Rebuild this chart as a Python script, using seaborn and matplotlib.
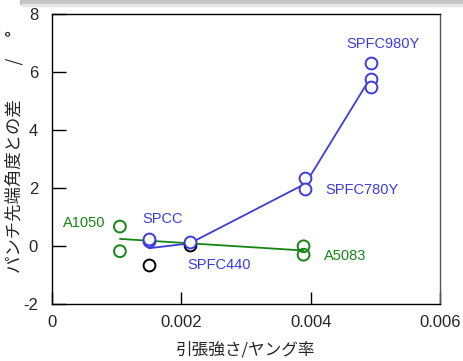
import matplotlib
matplotlib.use("Agg")
import matplotlib.pyplot as plt
import numpy as np
import pandas as pd
import seaborn as sns
from matplotlib.patches import Rectangle

# ---- data ----
steel_x = [0.00150, 0.00150, 0.00213, 0.00392, 0.00392, 0.00494, 0.00494, 0.00494]
steel_y = [0.18, 0.24, 0.13, 2.35, 1.95, 6.30, 5.77, 5.50]
black_x = [0.00150, 0.00213]
black_y = [-0.65, 0.05]
al_x = [0.00105, 0.00105, 0.00389, 0.00389]
al_y = [0.67, -0.18, -0.01, -0.30]

steel_labels = ["SPFC980Y", "SPFC780Y", "SPCC", "SPFC440"]
steel_label_x = [0.00512, 0.00422, 0.001714, 0.002587]
steel_label_y = [6.96, 1.92, 0.93, -0.67]
steel_label_ha = ["center", "left", "center", "center"]
al_labels = ["A1050", "A5083"]
al_label_x = [0.000494, 0.004533]
al_label_y = [0.78, -0.35]

x_ticks = [0, 0.002, 0.004, 0.006]
x_ticklabels = ["0", "0.002", "0.004", "0.006"]
y_ticks = [-2, 0, 2, 4, 6, 8]
y_ticklabels = ["-2", "0", "2", "4", "6", "8"]

xlabel = "引張強さ/ヤング率"
ylabel = "パンチ先端角度との差　　/　 °"

BLUE = "#3c3cd8"
GREEN = "#168516"

sns.set_style("white")
plt.rcParams["font.family"] = ["Liberation Sans", "Noto Sans CJK JP", "DejaVu Sans"]

fig = plt.figure(figsize=(4.63, 3.61), dpi=100)
ax = fig.add_axes([52 / 463, 1 - 304 / 361, 388 / 463, 290 / 361])

steel_df = pd.DataFrame({"x": steel_x + black_x, "y": steel_y + black_y})
al_df = pd.DataFrame({"x": al_x, "y": al_y})

sns.lineplot(data=steel_df, x="x", y="y", estimator="mean", errorbar=None,
             color=BLUE, lw=1.3, ax=ax, zorder=2)
sns.lineplot(data=al_df, x="x", y="y", estimator="mean", errorbar=None,
             color=GREEN, lw=1.3, ax=ax, zorder=2)

sns.scatterplot(x=black_x, y=black_y, s=72, facecolor="white", edgecolor="black",
                linewidth=1.4, ax=ax, zorder=3)
sns.scatterplot(x=steel_x, y=steel_y, s=72, facecolor="white", edgecolor=BLUE,
                linewidth=1.4, ax=ax, zorder=4)
sns.scatterplot(x=al_x, y=al_y, s=72, facecolor="none", edgecolor=GREEN,
                linewidth=1.4, ax=ax, zorder=4)

for t, x, y, ha in zip(steel_labels, steel_label_x, steel_label_y, steel_label_ha):
    ax.text(x, y, t, color=BLUE, fontsize=10.5, ha=ha, va="center")
for t, x, y in zip(al_labels, al_label_x, al_label_y):
    ax.text(x, y, t, color=GREEN, fontsize=10.5, ha="center", va="center")

ax.set_xlim(0, 0.006)
ax.set_ylim(-2, 8)
ax.set_xticks(x_ticks)
ax.set_xticklabels(x_ticklabels)
ax.set_yticks(y_ticks)
ax.set_yticklabels(y_ticklabels)
ax.tick_params(axis="y", direction="in", length=10, width=1, pad=10,
               labelsize=12, left=True, right=False, color="black")
ax.tick_params(axis="x", direction="in", length=8.5, width=1, pad=8,
               labelsize=12, bottom=True, top=False, color="black")

for s in ["left", "bottom", "top"]:
    ax.spines[s].set_color("black")
    ax.spines[s].set_linewidth(1.0)
ax.spines["right"].set_color("#555555")
ax.spines["right"].set_linewidth(1.0)

ax.set_xlabel(xlabel, fontsize=12, family=["Noto Sans CJK JP", "DejaVu Sans"], labelpad=8)
ax.set_ylabel(ylabel, fontsize=12.5, family=["Noto Sans CJK JP", "DejaVu Sans"])
ax.yaxis.set_label_coords(-0.074, 0.525)

# gray band at the top of the screenshot
fig.patches.append(Rectangle((20 / 463, 1 - 4 / 361), 1, 4 / 361,
                             transform=fig.transFigure, color="#c4c4c4", zorder=0))
fig.patches.append(Rectangle((22 / 463, 1 - 6 / 361), 1, 2 / 361,
                             transform=fig.transFigure, color="#e4e4e4", zorder=0))

fig.savefig("out.png", dpi=100)
